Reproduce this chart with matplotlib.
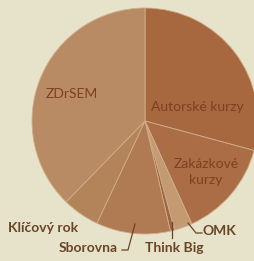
import matplotlib.pyplot as plt

labels = ["Autorské kurzy", "Zakázkové\nkurzy", "OMK", "Think Big", "Sborovna", "Klíčový rok", "ZDrSEM"]
values = [29.2, 14.0, 2.6, 0.6, 10.6, 5.3, 37.7]
colors = ["#a7683f", "#ab6d45", "#c39a72", "#9f6440", "#b07a52", "#b3835a", "#b98b64"]

W, H = 254, 261
fig = plt.figure(figsize=(W / 100, H / 100), dpi=100)
fig.patch.set_facecolor("#e7e3ca")

# pie centre (145,121) px, radius 113 px
cx, cy, r = 145, 121, 113
ax = fig.add_axes([(cx - r) / W, (H - cy - r) / H, 2 * r / W, 2 * r / H])
ax.axis("off")

wedges, _ = ax.pie(values, colors=colors, startangle=90, counterclock=False, radius=1,
                   wedgeprops=dict(edgecolor="#cfae8c", linewidth=0.6))
for w in wedges:
    w.set_clip_on(False)
ax.set_xlim(-1, 1)
ax.set_ylim(-1, 1)

font = ["Lato", "DejaVu Sans"]
inner = "#7e4022"
outer = "#6a4426"
fs = 10

def px(x, y):
    return (x / W, 1 - y / H)

fig.text(*px(72, 94), "ZDrSEM", color=inner, fontsize=fs, family=font, ha="center", va="center")
fig.text(*px(197, 107), "Autorské kurzy", color=inner, fontsize=fs, family=font, ha="center", va="center")
fig.text(*px(206, 172), "Zakázkové\nkurzy", color=inner, fontsize=fs, family=font, ha="center", va="center",
         linespacing=1.3)
fig.text(*px(43, 228), "Klíčový rok", color=outer, fontsize=fs, family=font, weight="bold", ha="center", va="center")
fig.text(*px(88, 248), "Sborovna", color=outer, fontsize=fs, family=font, weight="bold", ha="center", va="center")
fig.text(*px(174, 248), "Think Big", color=outer, fontsize=fs, family=font, weight="bold", ha="center", va="center")
fig.text(*px(219, 231), "OMK", color=outer, fontsize=fs, family=font, weight="bold", ha="center", va="center")

# leader lines
def leader(pts):
    xs = [p[0] / W for p in pts]
    ys = [1 - p[1] / H for p in pts]
    fig.add_artist(plt.Line2D(xs, ys, color=outer, lw=0.9))

leader([(122, 250), (128, 250), (135, 224)])
leader([(172, 238), (172, 222)])
leader([(188, 223), (196, 233), (202, 233)])

fig.savefig("out.png", dpi=100, facecolor=fig.get_facecolor())
